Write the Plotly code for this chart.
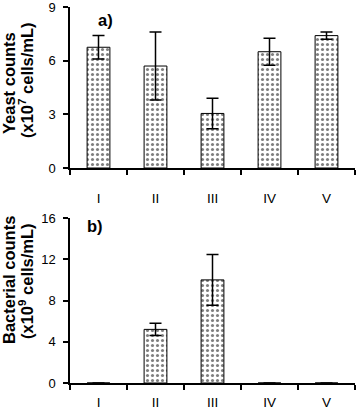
import plotly.graph_objects as go

categories = ["I", "II", "III", "IV", "V"]
yeast = [6.75, 5.7, 3.05, 6.5, 7.4]
yeast_err = [0.65, 1.9, 0.85, 0.75, 0.2]
bacteria = [0, 5.2, 10.0, 0, 0]
bacteria_err = [0, 0.6, 2.45, 0, 0]

pattern = dict(shape=".", fgcolor="black", bgcolor="white", size=5, solidity=0.3)
font = "Liberation Sans, Arial, sans-serif"
tfont = dict(family=font, size=16.5, color="black")

fig = go.Figure()
fig.add_trace(go.Bar(
    x=categories, y=yeast, width=0.4,
    marker=dict(color="white", line=dict(color="black", width=1), pattern=pattern),
    error_y=dict(type="data", array=yeast_err, color="black", thickness=1.5, width=6),
    xaxis="x", yaxis="y", showlegend=False))
fig.add_trace(go.Bar(
    x=categories, y=bacteria, width=0.4,
    marker=dict(color="white", line=dict(color="black", width=1), pattern=pattern),
    error_y=dict(type="data", array=bacteria_err, color="black", thickness=1.5, width=6),
    xaxis="x2", yaxis="y2", showlegend=False))

xcommon = dict(showline=True, linecolor="black", linewidth=1.5, ticks="outside",
               tickson="boundaries", ticklen=5, tickcolor="black", tickwidth=1.5,
               showgrid=False, zeroline=False, range=[-0.5, 4.5],
               tickfont=dict(family=font, size=13.5, color="black"))
ycommon = dict(showline=True, linecolor="black", linewidth=1.5, ticks="outside",
               ticklen=5, tickcolor="black", tickwidth=1.5, showgrid=False,
               zeroline=False, tickfont=dict(family=font, size=13, color="black"),
               ticklabelstandoff=5, ticklabeloverflow="allow")

# plot area: x 70..355, y 7..383 (height 376)
def py(px):
    return (383 - px) / 376

def pxx(px):
    return (px - 70) / 285

fig.update_layout(
    width=356, height=409, plot_bgcolor="white", paper_bgcolor="white",
    margin=dict(l=70, r=1, t=7, b=26, autoexpand=False),
    xaxis=dict(**xcommon, anchor="y", ticklabelstandoff=17),
    yaxis=dict(**ycommon, domain=[py(168), 1], range=[0, 9], tickvals=[0, 3, 6, 9]),
    xaxis2=dict(**xcommon, anchor="y2", ticklabelstandoff=6, ticklabeloverflow="allow"),
    yaxis2=dict(**ycommon, domain=[0, py(218)], range=[0, 16], tickvals=[0, 4, 8, 12, 16]),
    annotations=[
        dict(text="<b>a)</b>", x=0.12, y=8.27, xref="x", yref="y", showarrow=False,
             font=tfont, xanchor="center", yanchor="middle"),
        dict(text="<b>b)</b>", x=-0.06, y=15.2, xref="x2", yref="y2", showarrow=False,
             font=tfont, xanchor="center", yanchor="middle"),
        dict(text="<b>Yeast counts</b>", x=pxx(9), y=py(83), xref="paper", yref="paper",
             textangle=-90, showarrow=False, font=tfont, xanchor="center", yanchor="middle"),
        dict(text="<b>(x10<sup>7</sup> cells/mL)</b>", x=pxx(26), y=py(80), xref="paper",
             yref="paper", textangle=-90, showarrow=False, font=tfont,
             xanchor="center", yanchor="middle"),
        dict(text="<b>Bacterial counts</b>", x=pxx(9), y=py(280), xref="paper", yref="paper",
             textangle=-90, showarrow=False, font=tfont, xanchor="center", yanchor="middle"),
        dict(text="<b>(x10<sup>9</sup> cells/mL)</b>", x=pxx(26), y=py(281), xref="paper",
             yref="paper", textangle=-90, showarrow=False, font=tfont,
             xanchor="center", yanchor="middle"),
    ],
)

fig.write_html("out.html", config={"displayModeBar": False},
               post_script="document.body.style.margin='0';")
